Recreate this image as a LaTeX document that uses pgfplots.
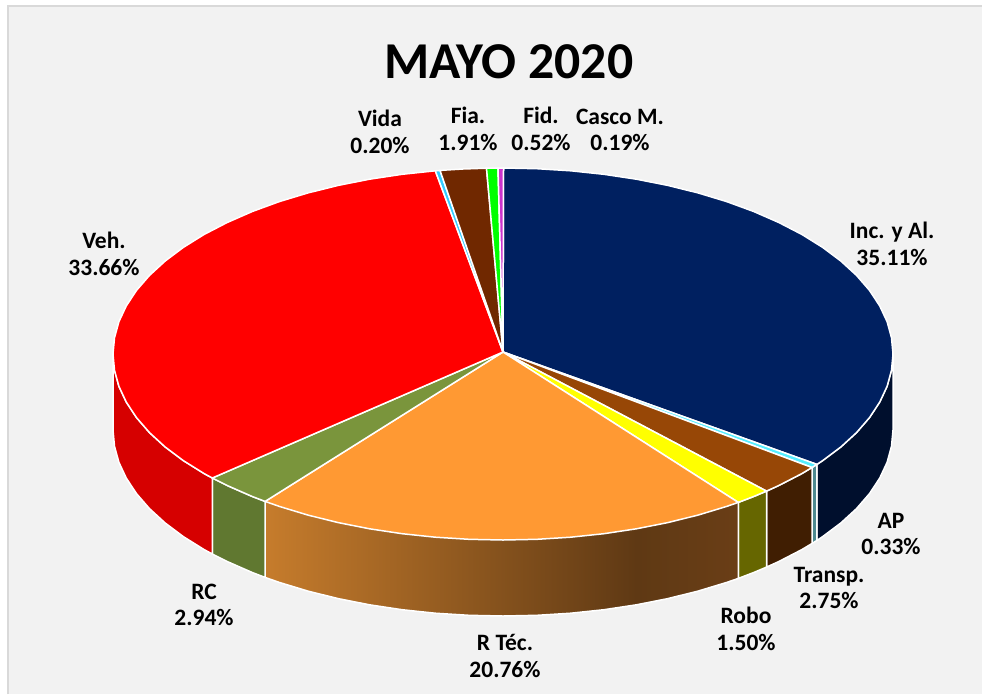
\documentclass[border=0pt]{standalone}
\usepackage{fontspec}
\setmainfont{Carlito}
\usepackage{pgfplots}
\pgfplotsset{compat=1.18}

\definecolor{bgpanel}{HTML}{F2F2F2}
\definecolor{frameline}{HTML}{D9D9D9}
\definecolor{cInc}{HTML}{002060}
\definecolor{cAP}{HTML}{55EEFF}
\definecolor{cTra}{HTML}{974706}
\definecolor{cRob}{HTML}{FFFF00}
\definecolor{cTec}{HTML}{FF9933}
\definecolor{cRC}{HTML}{7A953C}
\definecolor{cVeh}{HTML}{FF0000}
\definecolor{cVid}{HTML}{33CCFF}
\definecolor{cFia}{HTML}{702800}
\definecolor{cFid}{HTML}{00FF00}
\definecolor{cCas}{HTML}{CC33CC}
% side walls
\definecolor{sInc}{HTML}{000F2D}
\definecolor{sAP}{HTML}{4F8A90}
\definecolor{sTra}{HTML}{401E02}
\definecolor{sRob}{HTML}{666600}
\definecolor{sTecA}{HTML}{C67C2C}
\definecolor{sTecB}{HTML}{5F3914}
\definecolor{sTecC}{HTML}{6A3E16}
\definecolor{sRC}{HTML}{607830}
\definecolor{sVeh}{HTML}{D60000}

\tikzset{
  sec/.style={draw=white, line width=1.5pt, line join=round},
  lab/.style={align=center, text=black, font=\fontsize{23.5}{26.5}\selectfont\bfseries},
}

\begin{document}
\begin{tikzpicture}
\begin{axis}[
  scale only axis,
  width=982pt,
  height=694pt,
  xmin=0, xmax=982,
  ymin=0, ymax=694,
  y dir=reverse,
  hide axis,
  no markers,
]

% background
\addplot[fill=white, draw=none] coordinates {(0,0) (982,0) (982,694) (0,694)} --cycle;
\addplot[fill=bgpanel, draw=none] coordinates {(8,6) (982,6) (982,694) (8,694)} --cycle;
\addplot[draw=frameline, line width=2pt] coordinates {(8,694) (8,6) (982,6)};

% side walls
\addplot[sec, fill=sInc] coordinates {(893,354) (891.5,370.2) (887.1,386.3) (879.7,402.1) (869.5,417.6) (856.5,432.6) (840.8,447) (822.5,460.7) (816.9,464.4)
  (816.9,540.4) (822.5,536.7) (840.8,523) (856.5,508.6) (869.5,493.6) (879.7,478.1) (887.1,462.3) (891.5,446.2) (893,430)} --cycle;
\addplot[sec, fill=sAP] coordinates {(816.9,464.4) (812,467.5) (812,543.5) (816.9,540.4)} --cycle;
\addplot[sec, fill=sTra] coordinates {(812,467.5) (801.8,473.6) (778.8,485.5) (766.5,491.1)
  (766.5,567.1) (778.8,561.5) (801.8,549.6) (812,543.5)} --cycle;
\addplot[sec, fill=sRob] coordinates {(766.5,491.1) (753.7,496.5) (738.3,502.4)
  (738.3,578.4) (753.7,572.5) (766.5,567.1)} --cycle;

% R Tec wall, shaded in two parts, outline after
\addplot[draw=none, left color=sTecB, right color=sTecC] coordinates {(738.3,502.4) (726.7,506.4) (698,515.1) (667.8,522.6) (636.4,528.8)
  (636.4,604.8) (667.8,598.6) (698,591.1) (726.7,582.4) (738.3,578.4)} --cycle;
\addplot[draw=none, left color=sTecA, right color=sTecB] coordinates {(636.4,528.8) (603.9,533.7) (570.7,537.2) (537,539.3) (503,540) (469,539.3) (435.3,537.2) (402.1,533.7) (369.6,528.8) (338.2,522.6) (308,515.1) (279.3,506.4) (265.1,501.4)
  (265.1,577.4) (279.3,582.4) (308,591.1) (338.2,598.6) (369.6,604.8) (402.1,609.7) (435.3,613.2) (469,615.3) (503,616) (537,615.3) (570.7,613.2) (603.9,609.7) (636.4,604.8)} --cycle;
\addplot[sec] coordinates {(738.3,502.4) (738.3,578.4) (726.7,582.4) (698,591.1) (667.8,598.6) (636.4,604.8) (603.9,609.7) (570.7,613.2) (537,615.3) (503,616) (469,615.3) (435.3,613.2) (402.1,609.7) (369.6,604.8) (338.2,598.6) (308,591.1) (279.3,582.4) (265.1,577.4) (265.1,501.4)};

\addplot[sec, fill=sRC] coordinates {(265.1,501.4) (252.3,496.5) (227.2,485.5) (212.3,478)
  (212.3,554) (227.2,561.5) (252.3,572.5) (265.1,577.4)} --cycle;
\addplot[sec, fill=sVeh] coordinates {(212.3,478) (204.2,473.6) (183.5,460.7) (165.2,447) (149.5,432.6) (136.5,417.6) (126.3,402.1) (118.9,386.3) (114.5,370.2) (113,354)
  (113,430) (114.5,446.2) (118.9,462.3) (126.3,478.1) (136.5,493.6) (149.5,508.6) (165.2,523) (183.5,536.7) (204.2,549.6) (212.3,554)} --cycle;

% top face
\addplot[sec, fill=cInc] coordinates {(503,352) (503.5,168) (537,168.7) (570.7,170.8) (603.9,174.3) (636.4,179.2) (667.8,185.4) (698,192.9) (726.7,201.6) (753.7,211.5) (778.8,222.5) (801.8,234.4) (822.5,247.3) (840.8,261) (856.5,275.4) (869.5,290.4) (879.7,305.9) (887.1,321.7) (891.5,337.8) (893,354) (891.5,370.2) (887.1,386.3) (879.7,402.1) (869.5,417.6) (856.5,432.6) (840.8,447) (822.5,460.7) (816.9,464.4)} --cycle;
\addplot[sec, fill=cAP] coordinates {(503,352) (816.9,464.4) (812,467.5)} --cycle;
\addplot[sec, fill=cTra] coordinates {(503,352) (812,467.5) (801.8,473.6) (778.8,485.5) (766.5,491.1)} --cycle;
\addplot[sec, fill=cRob] coordinates {(503,352) (766.5,491.1) (753.7,496.5) (738.3,502.4)} --cycle;
\addplot[sec, fill=cTec] coordinates {(503,352) (738.3,502.4) (726.7,506.4) (698,515.1) (667.8,522.6) (636.4,528.8) (603.9,533.7) (570.7,537.2) (537,539.3) (503,540) (469,539.3) (435.3,537.2) (402.1,533.7) (369.6,528.8) (338.2,522.6) (308,515.1) (279.3,506.4) (265.1,501.4)} --cycle;
\addplot[sec, fill=cRC] coordinates {(503,352) (265.1,501.4) (252.3,496.5) (227.2,485.5) (212.3,478)} --cycle;
\addplot[sec, fill=cVeh] coordinates {(503,352) (212.3,478) (204.2,473.6) (183.5,460.7) (165.2,447) (149.5,432.6) (136.5,417.6) (126.3,402.1) (118.9,386.3) (114.5,370.2) (113,354) (114.5,337.8) (118.9,321.7) (126.3,305.9) (136.5,290.4) (149.5,275.4) (165.2,261) (183.5,247.3) (204.2,234.4) (227.2,222.5) (252.3,211.5) (279.3,201.6) (308,192.9) (338.2,185.4) (369.6,179.2) (402.1,174.3) (435.3,170.8)} --cycle;
\addplot[sec, fill=cVid] coordinates {(503,352) (435.3,170.8) (440,170.4)} --cycle;
\addplot[sec, fill=cFia] coordinates {(503,352) (440,170.4) (463,169) (486.5,168.2)} --cycle;
\addplot[sec, fill=cFid] coordinates {(503,352) (486.5,168.2) (498,168)} --cycle;
\addplot[sec, fill=cCas] coordinates {(503,352) (498,168) (503.5,168)} --cycle;

% title and labels
\node[text=black, font=\fontsize{51.7}{52}\selectfont\bfseries] at (axis cs:509,62) {MAYO 2020};
\node[lab] at (axis cs:892,244) {Inc. y Al.\\35.11\%};
\node[lab] at (axis cs:891,534) {AP\\0.33\%};
\node[lab] at (axis cs:829,588) {Transp.\\2.75\%};
\node[lab] at (axis cs:746,629) {Robo\\1.50\%};
\node[lab] at (axis cs:505,656) {R Téc.\\20.76\%};
\node[lab] at (axis cs:204,605) {RC\\2.94\%};
\node[lab] at (axis cs:104,254) {Veh.\\33.66\%};
\node[lab] at (axis cs:380,132) {Vida\\0.20\%};
\node[lab] at (axis cs:468,129) {Fia.\\1.91\%};
\node[lab] at (axis cs:541,129) {Fid.\\0.52\%};
\node[lab] at (axis cs:620,130) {Casco M.\\0.19\%};

\end{axis}
\end{tikzpicture}
\end{document}
